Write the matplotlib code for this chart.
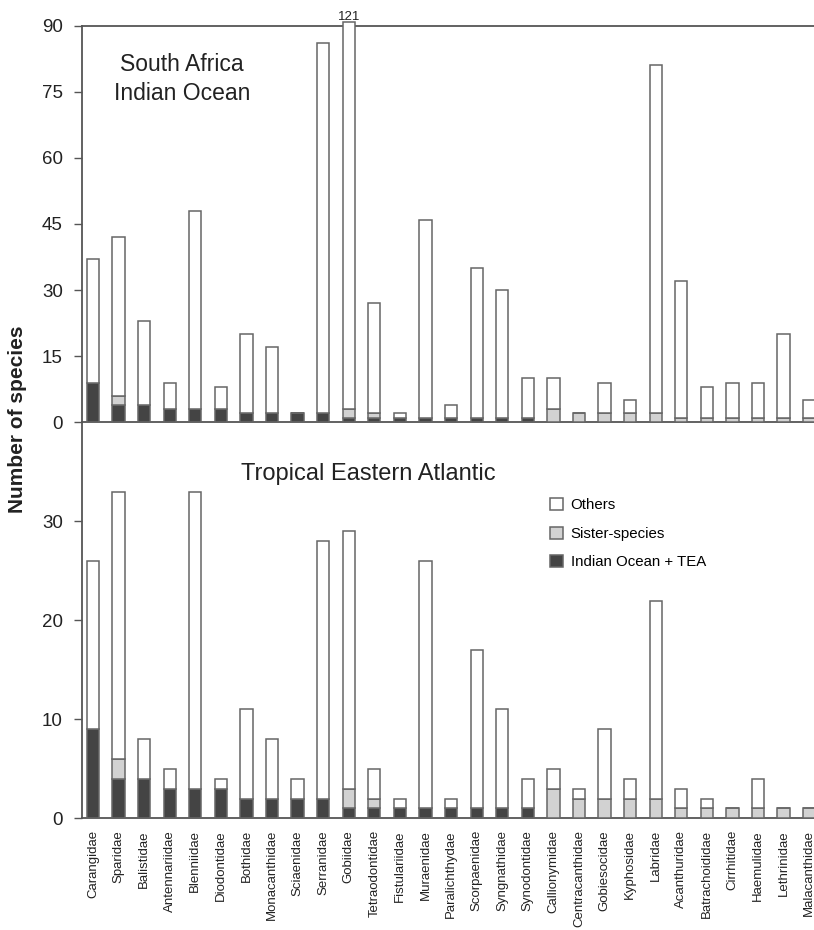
import matplotlib
matplotlib.use('Agg')
import matplotlib.pyplot as plt
import numpy as np

plt.rcParams['font.family'] = ['Liberation Sans', 'DejaVu Sans']

# Families on the x axis
families = ['Carangidae', 'Sparidae', 'Balistidae', 'Antennariidae', 'Blenniidae',
            'Diodontidae', 'Bothidae', 'Monacanthidae', 'Sciaenidae', 'Serranidae',
            'Gobiidae', 'Tetraodontidae', 'Fistulariidae', 'Muraenidae', 'Paralichthydae',
            'Scorpaenidae', 'Syngnathidae', 'Synodontidae', 'Callionymidae',
            'Centracanthidae', 'Gobiesocidae', 'Kyphosidae', 'Labridae', 'Acanthuridae',
            'Batrachoididae', 'Cirrhitidae', 'Haemulidae', 'Lethrinidae', 'Malacanthidae']

# species shared by Indian Ocean + TEA, and sister-species (same in both panels)
shared = np.array([9, 4, 4, 3, 3, 3, 2, 2, 2, 2, 1, 1, 1, 1, 1, 1, 1, 1,
                   0, 0, 0, 0, 0, 0, 0, 0, 0, 0, 0])
sister = np.array([0, 2, 0, 0, 0, 0, 0, 0, 0, 0, 2, 1, 0, 0, 0, 0, 0, 0,
                   3, 2, 2, 2, 2, 1, 1, 1, 1, 1, 1])

# total species per family
sa_total = np.array([37, 42, 23, 9, 48, 8, 20, 17, 2, 86, 121, 27, 2, 46, 4, 35, 30, 10,
                     10, 2, 9, 5, 81, 32, 8, 9, 9, 20, 5])
tea_total = np.array([26, 33, 8, 5, 33, 4, 11, 8, 4, 28, 29, 5, 2, 26, 2, 17, 11, 4,
                      5, 3, 9, 4, 22, 3, 2, 1, 4, 1, 1])

DARK = '#444444'
GREY = '#d2d2d2'
EDGE = '#666666'
SPINE = '#555555'
W = 0.48

fig = plt.figure(figsize=(8.14, 9.3), dpi=100)
ax_top = fig.add_axes([0.1004, 0.5459, 0.9113, 0.4265])
ax_bot = fig.add_axes([0.1004, 0.1201, 0.9113, 0.4258])

x = np.arange(len(families))


def draw(ax, total, cap=None):
    others = total - shared - sister
    base = shared + sister
    if cap is not None:
        others = np.minimum(others, cap - base)
    kw = dict(width=W, edgecolor=EDGE, linewidth=1.1, zorder=3)
    b1 = ax.bar(x, shared, color=DARK, **kw)
    b2 = ax.bar(x, sister, bottom=shared, color=GREY, **kw)
    b3 = ax.bar(x, others, bottom=base, color='white', clip_on=False, **kw)
    return b1, b2, b3


# top panel: South Africa
draw(ax_top, sa_total, cap=90.9)
ax_top.set_ylim(0, 90)
ax_top.set_yticks(np.arange(0, 91, 15))
for i, t in enumerate(sa_total):
    if t > 90:
        ax_top.text(i, 91.2, str(t), ha='center', va='baseline', fontsize=9.5, color='#222222')

# bottom panel: Tropical Eastern Atlantic
b1, b2, b3 = draw(ax_bot, tea_total)
ax_bot.set_ylim(0, 40)
ax_bot.set_yticks([0, 10, 20, 30])

for ax in (ax_top, ax_bot):
    ax.set_xlim(-0.44, 28.56)
    ax.spines['right'].set_visible(False)
    for s in ('left', 'top', 'bottom'):
        ax.spines[s].set_color(SPINE)
        ax.spines[s].set_linewidth(1.3)
    ax.tick_params(axis='y', direction='out', length=5.5, width=1, color=SPINE,
                   labelsize=13.5, labelcolor='#222222', pad=8)
    ax.tick_params(axis='x', length=0)
    ax.set_facecolor('none')

ax_bot.spines['top'].set_visible(False)
ax_top.set_xticks(x, [])
ax_bot.set_xticks(x, families, rotation=90, fontsize=9.5, color='#222222')
ax_bot.tick_params(axis='x', pad=8.5)

fig.text(182 / 814, 1 - 71 / 930, 'South Africa', ha='center', va='baseline',
         fontsize=16.5, color='#222222')
fig.text(182 / 814, 1 - 100 / 930, 'Indian Ocean', ha='center', va='baseline',
         fontsize=16.5, color='#222222')
fig.text(368 / 814, 1 - 480 / 930, 'Tropical Eastern Atlantic', ha='center', va='baseline',
         fontsize=17, color='#222222')

fig.text(18 / 814, 1 - 419 / 930, 'Number of species', rotation=90, ha='center',
         va='center', fontsize=15, fontweight='bold', color='#222222')

ax_bot.legend([b3, b2, b1], ['Others', 'Sister-species', 'Indian Ocean + TEA'],
              loc='upper left', bbox_to_anchor=(550 / 814, 1 - 498 / 930),
              bbox_transform=fig.transFigure, frameon=False, fontsize=10.8,
              handlelength=0.87, handleheight=0.87, handletextpad=0.5,
              labelspacing=0.95, borderpad=0, borderaxespad=0)

fig.savefig('out.png', dpi=100)
